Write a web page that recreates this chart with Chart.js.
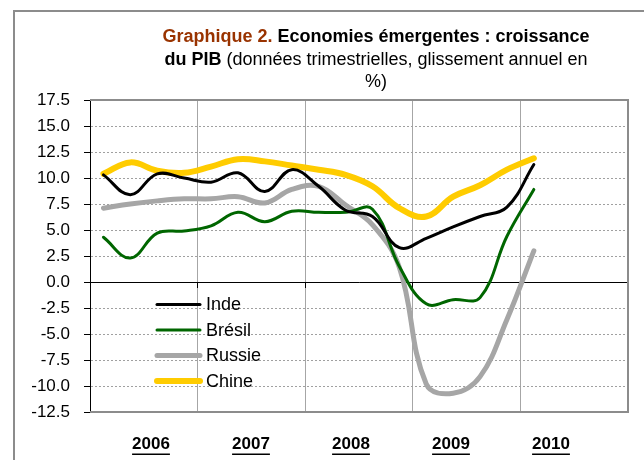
<!DOCTYPE html>
<html lang="fr">
<head>
<meta charset="UTF-8">
<title>Graphique 2 - Economies émergentes</title>
<script src="https://cdn.jsdelivr.net/npm/chart.js"></script>
<style>
  html, body { margin: 0; padding: 0; background: #fff; }
  body { width: 644px; height: 460px; position: relative; overflow: hidden; font-family: Arial, "Liberation Sans", sans-serif; }
  .cadre { position: absolute; left: 13px; top: 10px; width: 700px; height: 500px; border-left: 2px solid #8c8c8c; border-top: 2px solid #8c8c8c; }
  #titre { position: absolute; left: 126px; width: 500px; top: 25px; text-align: center; font-size: 18px; line-height: 22.5px; color: #000; z-index: 2; }
  #titre .num { color: #993300; font-weight: bold; }
  #graph { position: absolute; left: 0; top: 0; }
</style>
</head>
<body>
<div class="cadre"></div>
<div id="titre"><span class="num">Graphique 2.</span> <b>Economies émergentes : croissance<br>du PIB</b> (données trimestrielles, glissement annuel en<br>%)</div>
<canvas id="graph" width="644" height="460"></canvas>

<script>
// trimestres 2006T1 .. 2010T4 (axe des catégories)
const QUARTERS = ['2006T1', '2006T2', '2006T3', '2006T4',
                  '2007T1', '2007T2', '2007T3', '2007T4',
                  '2008T1', '2008T2', '2008T3', '2008T4',
                  '2009T1', '2009T2', '2009T3', '2009T4',
                  '2010T1', '2010T2', '2010T3', '2010T4'];
const YEARS = [2006, 2007, 2008, 2009, 2010];
const Y_TICKS = [-12.5, -10, -7.5, -5, -2.5, 0, 2.5, 5, 7.5, 10, 12.5, 15, 17.5];

// glissement annuel du PIB, %
const INDE   = [10.3, 8.4, 10.4, 10.0, 9.6, 10.5, 8.7, 10.8, 9.2, 6.9, 6.3, 3.3, 4.2, 5.3, 6.3, 7.2, 11.3];
const BRESIL = [4.3, 2.3, 4.7, 4.9, 5.4, 6.7, 5.8, 6.8, 6.7, 6.7, 7.0, 1.5, -2.1, -1.7, -1.5, 4.4, 8.9];
const RUSSIE = [7.1, 7.5, 7.8, 8.0, 8.0, 8.2, 7.6, 8.9, 9.2, 7.4, 5.5, 1.4, -9.8, -10.7, -9.1, -3.6, 3.0];
const CHINE  = [10.4, 11.5, 10.7, 10.5, 11.1, 11.8, 11.6, 11.2, 10.8, 10.3, 9.2, 7.1, 6.3, 8.2, 9.3, 10.8, 11.9];

const FONT = 'Arial, "Liberation Sans", sans-serif';
Chart.defaults.font.family = FONT;
Chart.defaults.color = '#000';

function serie(label, data, color, width) {
    return {
        label: label,
        data: data,
        borderColor: color,
        borderWidth: width,
        borderCapStyle: 'round',
        borderJoinStyle: 'round',
        pointRadius: 0,
        tension: 0.4,
        fill: false
    };
}

// contour gris de la zone de tracé (haut, droite, bas)
const plotBorder = {
    id: 'plotBorder',
    beforeDatasetsDraw(chart) {
        const {ctx, chartArea: a} = chart;
        ctx.save();
        ctx.strokeStyle = '#8c8c8c';
        ctx.lineWidth = 2;
        ctx.beginPath();
        ctx.moveTo(a.left, a.top);
        ctx.lineTo(a.right, a.top);
        ctx.lineTo(a.right, a.bottom);
        ctx.lineTo(a.left, a.bottom);
        ctx.stroke();
        ctx.restore();
    }
};

// légende à l'intérieur du graphique
const innerLegend = {
    id: 'innerLegend',
    afterDatasetsDraw(chart) {
        const ctx = chart.ctx;
        ctx.save();
        ctx.font = '18px ' + FONT;
        ctx.textBaseline = 'middle';
        chart.data.datasets.forEach((ds, i) => {
            const y = 304.5 + i * 25.5;
            ctx.strokeStyle = ds.borderColor;
            ctx.lineWidth = ds.borderWidth;
            ctx.lineCap = 'round';
            ctx.beginPath();
            ctx.moveTo(157, y);
            ctx.lineTo(200, y);
            ctx.stroke();
            ctx.fillStyle = '#000';
            ctx.fillText(ds.label, 206, y + 1);
        });
        ctx.restore();
    }
};

// années soulignées
const underlineYears = {
    id: 'underlineYears',
    afterDraw(chart) {
        const s = chart.scales.years;
        const ctx = chart.ctx;
        ctx.save();
        ctx.font = 'bold 17px ' + FONT;
        ctx.fillStyle = '#000';
        s.ticks.forEach((t, i) => {
            const x = s.getPixelForTick(i);
            const w = ctx.measureText(String(t.value)).width;
            ctx.fillRect(x - w / 2, 453.5, w, 1.5);
        });
        ctx.restore();
    }
};

new Chart(document.getElementById('graph'), {
    type: 'line',
    data: {
        labels: QUARTERS,
        datasets: [
            serie('Inde', INDE, '#000000', 3),
            serie('Brésil', BRESIL, '#006600', 3),
            serie('Russie', RUSSIE, '#a6a6a6', 5),
            serie('Chine', CHINE, '#ffcc00', 6)
        ]
    },
    options: {
        responsive: false,
        animation: false,
        layout: { padding: { left: 13, right: 16, top: 100, bottom: 0 } },
        plugins: {
            legend: { display: false },
            tooltip: { enabled: false }
        },
        scales: {
            x: {
                type: 'category',
                position: { y: 0 },
                offset: true,
                grid: {
                    offset: true,
                    color: c => (c.index % 4 === 0 ? '#a6a6a6' : 'rgba(0,0,0,0)'),
                    tickColor: c => (c.index % 4 === 0 ? '#000' : 'rgba(0,0,0,0)'),
                    tickLength: 5
                },
                border: { color: '#000', width: 1 },
                ticks: { display: false },
                afterFit: s => { s.height = 0; }
            },
            years: {
                type: 'linear',
                position: 'bottom',
                min: 2005.39,
                max: 2010.77,
                afterBuildTicks: s => { s.ticks = YEARS.map(v => ({ value: v })); },
                ticks: {
                    callback: v => String(v),
                    font: { size: 17, weight: 'bold' },
                    padding: 22,
                    autoSkip: false,
                    maxRotation: 0
                },
                grid: { display: false, drawTicks: false, tickLength: 0 },
                border: { display: false },
                afterFit: s => { s.height = 48; }
            },
            y: {
                min: -12.5,
                max: 17.5,
                afterBuildTicks: s => { s.ticks = Y_TICKS.map(v => ({ value: v })); },
                ticks: {
                    callback: v => v.toFixed(1),
                    font: { size: 17 },
                    padding: 14
                },
                grid: { color: '#a0a0a0', tickColor: '#000', tickLength: 6, lineWidth: 1 },
                border: { color: '#000', width: 1, dash: [2, 2] },
                afterFit: s => { s.width = 77; }
            }
        }
    },
    plugins: [plotBorder, innerLegend, underlineYears]
});
</script>
</body>
</html>
